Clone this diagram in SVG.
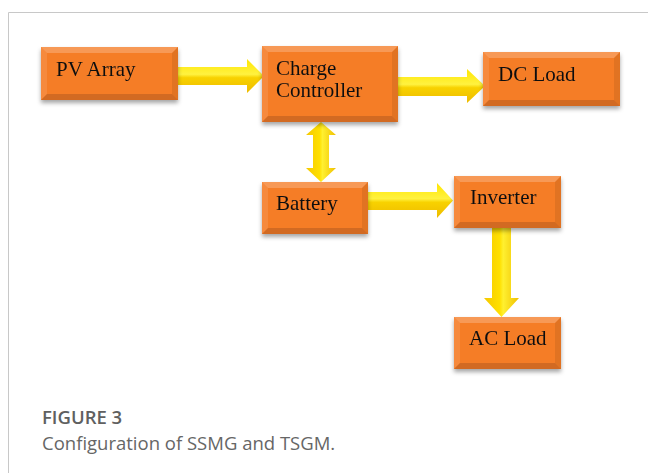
<svg xmlns="http://www.w3.org/2000/svg" width="648" height="473" viewBox="0 0 648 473">
<defs>
<style>
.box{fill:#F57D27}
.bt{fill:#FFFFFF;fill-opacity:0.22}
.bl{fill:#FFFFFF;fill-opacity:0.10}
.br{fill:#000000;fill-opacity:0.08}
.bb{fill:#000000;fill-opacity:0.14}
.lbl{font-family:"Liberation Serif","Times New Roman",serif;font-size:21px;fill:#111}
.ah{fill:url(#gh)}
.av{fill:url(#gv)}
.frame{stroke:#C8C8C8;stroke-width:1;fill:none}
</style>
<linearGradient id="gh" x1="0" y1="0" x2="0" y2="1">
<stop offset="0" stop-color="#FFE600"/>
<stop offset="0.45" stop-color="#FFF240"/>
<stop offset="0.55" stop-color="#F8D200"/>
<stop offset="1" stop-color="#EDBB00"/>
</linearGradient>
<linearGradient id="gv" x1="0" y1="0" x2="1" y2="0">
<stop offset="0" stop-color="#F5C800"/>
<stop offset="0.45" stop-color="#FFE000"/>
<stop offset="0.55" stop-color="#FFF030"/>
<stop offset="1" stop-color="#F0C000"/>
</linearGradient>
<filter id="sh" x="-10%" y="-10%" width="120%" height="130%">
<feDropShadow dx="0" dy="3" stdDeviation="2" flood-color="#000" flood-opacity="0.35"/>
</filter>
</defs>
<rect width="648" height="473" fill="#FFFFFF"/>
<path class="frame" d="M8.5 473 V12.5 H648"/>

<g id="connectors">
<polygon class="ah" points="178,67 247,67 247,59 264,76 247,93 247,85 178,85"/>
<polygon class="ah" points="398,77 467,77 467,69 485,86 467,103 467,96 398,96"/>
<polygon class="av" points="321,122 336,135 329,135 329,168 336,168 321,182 306,168 313,168 313,135 306,135"/>
<polygon class="ah" points="368,192 437,192 437,183 453,200.5 437,218 437,210 368,210"/>
<polygon class="av" points="492,228 511,228 511,298 519,298 501.5,317 484,298 492,298"/>
</g>

<g id="pv-array" filter="url(#sh)">
<rect class="box" x="41" y="47" width="137" height="53"/>
<polygon class="bt" points="41,47 178,47 172,53 47,53"/>
<polygon class="bl" points="41,47 47,53 47,94 41,100"/>
<polygon class="br" points="178,47 178,100 172,94 172,53"/>
<polygon class="bb" points="41,100 47,94 172,94 178,100"/>
<text class="lbl" x="56" y="76">PV Array</text>
</g>

<g id="charge-controller" filter="url(#sh)">
<rect class="box" x="262" y="46" width="136" height="76"/>
<polygon class="bt" points="262,46 398,46 392,52 268,52"/>
<polygon class="bl" points="262,46 268,52 268,116 262,122"/>
<polygon class="br" points="398,46 398,122 392,116 392,52"/>
<polygon class="bb" points="262,122 268,116 392,116 398,122"/>
<text class="lbl" x="276" y="75">Charge</text>
<text class="lbl" x="276" y="97">Controller</text>
</g>

<g id="dc-load" filter="url(#sh)">
<rect class="box" x="483" y="52" width="137" height="54"/>
<polygon class="bt" points="483,52 620,52 614,58 489,58"/>
<polygon class="bl" points="483,52 489,58 489,100 483,106"/>
<polygon class="br" points="620,52 620,106 614,100 614,58"/>
<polygon class="bb" points="483,106 489,100 614,100 620,106"/>
<text class="lbl" x="498" y="81">DC Load</text>
</g>

<g id="battery" filter="url(#sh)">
<rect class="box" x="262" y="182" width="106" height="52"/>
<polygon class="bt" points="262,182 368,182 362,188 268,188"/>
<polygon class="bl" points="262,182 268,188 268,228 262,234"/>
<polygon class="br" points="368,182 368,234 362,228 362,188"/>
<polygon class="bb" points="262,234 268,228 362,228 368,234"/>
<text class="lbl" x="276" y="210">Battery</text>
</g>

<g id="inverter" filter="url(#sh)">
<rect class="box" x="454" y="176" width="107" height="52"/>
<polygon class="bt" points="454,176 561,176 555,182 460,182"/>
<polygon class="bl" points="454,176 460,182 460,222 454,228"/>
<polygon class="br" points="561,176 561,228 555,222 555,182"/>
<polygon class="bb" points="454,228 460,222 555,222 561,228"/>
<text class="lbl" x="470" y="204">Inverter</text>
</g>

<g id="ac-load" filter="url(#sh)">
<rect class="box" x="454" y="317" width="107" height="52"/>
<polygon class="bt" points="454,317 561,317 555,323 460,323"/>
<polygon class="bl" points="454,317 460,323 460,363 454,369"/>
<polygon class="br" points="561,317 561,369 555,363 555,323"/>
<polygon class="bb" points="454,369 460,363 555,363 561,369"/>
<text class="lbl" x="469" y="345">AC Load</text>
</g>

<g id="caption">
<text x="42" y="424" font-family="'Open Sans','Noto Sans',sans-serif" font-size="18.5" font-weight="600" fill="#606060">FIGURE 3</text>
<text x="42" y="450" font-family="'Open Sans','Noto Sans',sans-serif" font-size="18.5" fill="#666666">Configuration of SSMG and TSGM.</text>
</g>
</svg>
